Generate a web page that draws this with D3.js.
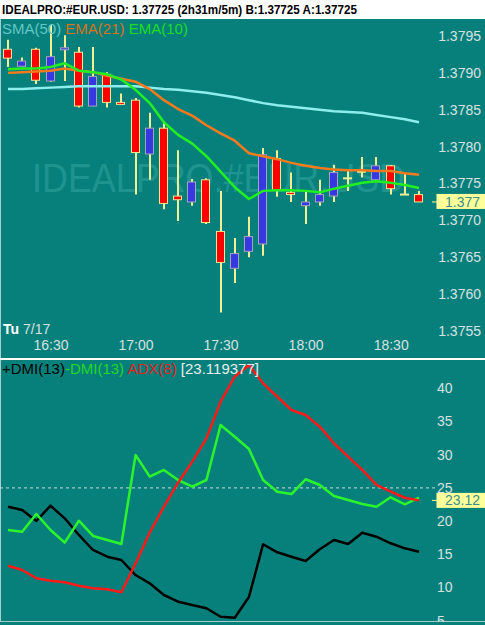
<!DOCTYPE html>
<html lang="en">
<head>
<meta charset="utf-8">
<style>
  body { margin: 0; background: #fff; }
  svg { display: block; font-family: "Liberation Sans", Arial, sans-serif; }
</style>
<script src="https://d3js.org/d3.v7.min.js" charset="utf-8"></script>
</head>
<body>

<script>
  // 5 minute bars, EUR.USD
  let times = ["16:15", "16:20", "16:25", "16:30", "16:35", "16:40", "16:45", "16:50", "16:55", "17:00",
               "17:05", "17:10", "17:15", "17:20", "17:25", "17:30", "17:35", "17:40", "17:45", "17:50",
               "17:55", "18:00", "18:05", "18:10", "18:15", "18:20", "18:25", "18:30", "18:35", "18:40"];

  let open  = [1.37932, 1.37909, 1.37932, 1.37889, 1.37932, 1.37928, 1.37855, 1.37898, 1.37860, 1.37863,
               1.37790, 1.37825, 1.37733, 1.37725, 1.37755, 1.37685, 1.37635, 1.37658, 1.37668, 1.37784,
               1.37738, 1.37720, 1.37725, 1.37733, 1.37757, 1.37766, 1.37755, 1.37774, 1.37735, 1.37735];
  let high  = [1.37945, 1.37921, 1.37934, 1.37965, 1.37951, 1.37935, 1.37935, 1.37901, 1.37872, 1.37866,
               1.37846, 1.37834, 1.37795, 1.37756, 1.37757, 1.37740, 1.37676, 1.37705, 1.37798, 1.37795,
               1.37765, 1.37741, 1.37755, 1.37775, 1.37768, 1.37786, 1.37786, 1.37775, 1.37764, 1.37740];
  let low   = [1.37908, 1.37909, 1.37885, 1.37888, 1.37889, 1.37853, 1.37855, 1.37853, 1.37858, 1.37735,
               1.37755, 1.37715, 1.37699, 1.37720, 1.37695, 1.37575, 1.37615, 1.37650, 1.37652, 1.37732,
               1.37725, 1.37695, 1.37720, 1.37725, 1.37740, 1.37758, 1.37755, 1.37735, 1.37735, 1.37725];
  let close = [1.37920, 1.37916, 1.37890, 1.37922, 1.37934, 1.37855, 1.37895, 1.37860, 1.37858, 1.37792,
               1.37825, 1.37723, 1.37728, 1.37752, 1.37697, 1.37643, 1.37655, 1.37678, 1.37789, 1.37741,
               1.37735, 1.37725, 1.37735, 1.37765, 1.37757, 1.37766, 1.37774, 1.37743, 1.37735, 1.37725];

  let sma50 = [1.37878, 1.37878, 1.37879, 1.37880, 1.37881, 1.37882, 1.37882, 1.37882, 1.37882, 1.37882,
               1.37880, 1.37878, 1.37877, 1.37875, 1.37873, 1.37870, 1.37867, 1.37863, 1.37859, 1.37856,
               1.37854, 1.37852, 1.37850, 1.37848, 1.37847, 1.37846, 1.37843, 1.37840, 1.37837, 1.37833];
  let ema21 = [1.37900, 1.37901, 1.37902, 1.37903, 1.37906, 1.37903, 1.37901, 1.37896, 1.37892, 1.37888,
               1.37878, 1.37863, 1.37851, 1.37842, 1.37829, 1.37818, 1.37808, 1.37791, 1.37787, 1.37783,
               1.37778, 1.37774, 1.37771, 1.37769, 1.37768, 1.37768, 1.37767, 1.37767, 1.37764, 1.37762];
  let ema10 = [1.37905, 1.37906, 1.37906, 1.37908, 1.37913, 1.37903, 1.37901, 1.37898, 1.37891, 1.37877,
               1.37859, 1.37833, 1.37816, 1.37804, 1.37787, 1.37766, 1.37745, 1.37729, 1.37740, 1.37741,
               1.37741, 1.37740, 1.37738, 1.37743, 1.37747, 1.37751, 1.37753, 1.37751, 1.37748, 1.37744];

  let plusDmi  = [22.17, 21.67, 20.02, 22.32, 20.42, 17.91, 15.65, 14.64, 14.14, 11.88,
                  10.63, 8.87, 7.86, 7.36, 6.87, 5.60, 5.45, 8.57, 16.51, 15.30,
                  14.64, 13.99, 15.75, 17.15, 16.55, 18.25, 17.65, 16.66, 15.90, 15.39];
  let minusDmi = [18.66, 18.40, 21.07, 18.66, 16.75, 20.06, 17.76, 17.15, 16.55, 29.95,
                  26.69, 27.70, 26.19, 25.18, 26.19, 34.47, 32.71, 30.86, 26.19, 24.43,
                  24.08, 26.30, 25.44, 23.78, 23.18, 22.58, 22.17, 23.58, 22.53, 23.52];
  let adx      = [13.28, 12.64, 11.39, 11.02, 10.78, 10.27, 9.88, 9.73, 9.28, 13.64,
                  18.25, 22.17, 25.78, 28.95, 32.47, 37.98, 41.75, 43.51, 40.75, 38.73,
                  36.73, 35.98, 34.22, 31.72, 29.70, 27.70, 25.44, 24.43, 23.52, 23.119377];

  let priceTicks = [1.3755, 1.3760, 1.3765, 1.3770, 1.3775, 1.3780, 1.3785, 1.3790, 1.3795];
  let dmiTicks = [5, 10, 15, 20, 25, 30, 35, 40];
  let timeTicks = ["16:30", "17:00", "17:30", "18:00", "18:30"];
  let refLevel = 25;

  let bg = "#07807b";
  let axisColor = "#d6e2e2";
  let wickColor = "#f2ee96";

  let parseTime = d3.timeParse("%H:%M");
  let dates = times.map(parseTime);

  let svg = d3.select("body")
    .append("svg")
    .attr("width", 485)
    .attr("height", 625);

  svg.append("rect").attr("width", 485).attr("height", 625).attr("fill", "#fff");

  svg.append("text")
    .attr("x", 2)
    .attr("y", 14)
    .attr("font-size", 13)
    .attr("font-weight", "bold")
    .attr("textLength", 355)
    .attr("lengthAdjust", "spacingAndGlyphs")
    .attr("fill", "#000")
    .text("IDEALPRO:#EUR.USD: 1.37725 (2h31m/5m)  B:1.37725 A:1.37725");

  let defs = svg.append("defs");
  defs.append("clipPath").attr("id", "clipTop")
    .append("rect").attr("x", 0).attr("y", 19).attr("width", 485).attr("height", 339);
  defs.append("clipPath").attr("id", "clipBottom")
    .append("rect").attr("x", 0).attr("y", 360).attr("width", 485).attr("height", 262);

  svg.append("rect").attr("x", 0).attr("y", 19).attr("width", 485).attr("height", 339).attr("fill", bg);
  svg.append("rect").attr("x", 0).attr("y", 360).attr("width", 485).attr("height", 265).attr("fill", bg);
  svg.append("line").attr("x1", 0).attr("x2", 485).attr("y1", 621.5).attr("y2", 621.5)
    .attr("stroke", "#a9cccc").attr("stroke-width", 1);
  svg.append("line").attr("x1", 0.5).attr("x2", 0.5).attr("y1", 19).attr("y2", 622)
    .attr("stroke", "#a9cccc").attr("stroke-width", 1);

  let x = d3.scaleTime()
    .domain([parseTime("16:15"), parseTime("18:40")])
    .range([8, 419]);

  let yPrice = d3.scaleLinear()
    .domain([1.3755, 1.3795])
    .range([331, 36]);

  let yDmi = d3.scaleLinear()
    .domain([5, 40])
    .range([620.7, 388.3]);

  // ---------- price panel ----------
  let pricePanel = svg.append("g").attr("clip-path", "url(#clipTop)");

  pricePanel.append("text")
    .attr("x", 32)
    .attr("y", 192)
    .attr("font-size", 40)
    .attr("textLength", 373)
    .attr("lengthAdjust", "spacingAndGlyphs")
    .attr("fill", "#1f948f")
    .text("IDEALPRO.#EUR.USD");

  let candles = dates.map(function(t, i) {
    return {t: t, o: open[i], h: high[i], l: low[i], c: close[i]};
  });

  pricePanel.selectAll(".wick")
    .data(candles)
    .enter().append("line")
    .attr("class", "wick")
    .attr("x1", d => Math.round(x(d.t)))
    .attr("x2", d => Math.round(x(d.t)))
    .attr("y1", d => yPrice(d.h))
    .attr("y2", d => yPrice(d.l))
    .attr("stroke", wickColor)
    .attr("stroke-width", 2);

  pricePanel.selectAll(".doji")
    .data(candles.filter(d => d.o === d.c))
    .enter().append("line")
    .attr("class", "doji")
    .attr("x1", d => Math.round(x(d.t)) - 5)
    .attr("x2", d => Math.round(x(d.t)) + 4)
    .attr("y1", d => yPrice(d.o))
    .attr("y2", d => yPrice(d.o))
    .attr("stroke", wickColor)
    .attr("stroke-width", 2);

  pricePanel.selectAll(".body")
    .data(candles.filter(d => d.o !== d.c))
    .enter().append("rect")
    .attr("class", "body")
    .attr("x", d => Math.round(x(d.t)) - 4.5)
    .attr("width", 8)
    .attr("y", d => yPrice(Math.max(d.o, d.c)))
    .attr("height", d => Math.max(2, Math.abs(yPrice(d.o) - yPrice(d.c))))
    .attr("fill", d => d.c > d.o ? "#3838e0" : "#ff0000")
    .attr("stroke", d => d.c > d.o ? "#a4a4bc" : "#f0e890")
    .attr("stroke-width", 1);

  let priceLine = d3.line()
    .x((d, i) => x(dates[i]))
    .y(d => yPrice(d));

  [[sma50, "#8eeeee"], [ema21, "#f57a1e"], [ema10, "#22ee22"]].forEach(function(s) {
    pricePanel.append("path")
      .attr("d", priceLine(s[0]))
      .attr("fill", "none")
      .attr("stroke", s[1])
      .attr("stroke-width", 2.5)
      .attr("stroke-linejoin", "round");
  });

  let priceLegend = pricePanel.append("text")
    .attr("x", 2)
    .attr("y", 34)
    .attr("font-size", 15);
  priceLegend.append("tspan").attr("fill", "#62c6c6").text("SMA(50) ");
  priceLegend.append("tspan").attr("fill", "#d8721c").text("EMA(21) ");
  priceLegend.append("tspan").attr("fill", "#1fdc1f").text("EMA(10)");

  let priceAxis = pricePanel.append("g")
    .attr("transform", "translate(481,0)")
    .call(d3.axisRight(yPrice).tickValues(priceTicks).tickFormat(d3.format(".4f")).tickSize(0).tickPadding(0))
    .attr("font-size", 14)
    .attr("font-family", null)
    .attr("text-anchor", "end");
  priceAxis.select(".domain").remove();
  priceAxis.selectAll("text").attr("fill", axisColor);

  let timeAxis = pricePanel.append("g")
    .attr("transform", "translate(0,340)")
    .call(d3.axisBottom(x).tickValues(timeTicks.map(parseTime)).tickFormat(d3.timeFormat("%H:%M")).tickSize(0).tickPadding(0))
    .attr("font-size", 14)
    .attr("font-family", null);
  timeAxis.select(".domain").remove();
  timeAxis.selectAll("text").attr("fill", axisColor);

  let dayLabel = pricePanel.append("text")
    .attr("x", 3)
    .attr("y", 334)
    .attr("font-size", 14)
    .attr("fill", axisColor);
  dayLabel.append("tspan").attr("font-weight", "bold").attr("fill", "#fff").text("Tu ");
  dayLabel.append("tspan").text("7/17");

  let lastPrice = close[close.length - 1];
  let yLast = yPrice(lastPrice);
  pricePanel.append("line")
    .attr("x1", 432).attr("x2", 437).attr("y1", yLast).attr("y2", yLast)
    .attr("stroke", "#ffff99");
  pricePanel.append("rect")
    .attr("x", 436.5).attr("y", yLast - 8).attr("width", 49).attr("height", 15)
    .attr("fill", "#ffff99");
  pricePanel.append("text")
    .attr("x", 445).attr("y", yLast + 5)
    .attr("font-size", 14)
    .attr("fill", "#3a8f8b")
    .text(d3.format(".3f")(lastPrice));

  // ---------- DMI panel ----------
  let dmiPanel = svg.append("g").attr("clip-path", "url(#clipBottom)");

  dmiPanel.append("line")
    .attr("x1", 0).attr("x2", 436)
    .attr("y1", yDmi(refLevel)).attr("y2", yDmi(refLevel))
    .attr("stroke", "#c6dada")
    .attr("stroke-width", 1)
    .attr("stroke-dasharray", "3,3");

  let dmiLine = d3.line()
    .x((d, i) => x(dates[i]))
    .y(d => yDmi(d));

  [[plusDmi, "#000000"], [minusDmi, "#2cf42c"], [adx, "#ff1a1a"]].forEach(function(s) {
    dmiPanel.append("path")
      .attr("d", dmiLine(s[0]))
      .attr("fill", "none")
      .attr("stroke", s[1])
      .attr("stroke-width", 2.5)
      .attr("stroke-linejoin", "round");
  });

  let dmiAxis = dmiPanel.append("g")
    .attr("transform", "translate(437,0)")
    .call(d3.axisRight(yDmi).tickValues(dmiTicks).tickFormat(d3.format("d")).tickSize(0).tickPadding(0))
    .attr("font-size", 14)
    .attr("font-family", null)
    .attr("text-anchor", "start");
  dmiAxis.select(".domain").remove();
  dmiAxis.selectAll("text").attr("fill", axisColor);

  let lastAdx = adx[adx.length - 1];
  let yAdx = yDmi(lastAdx);
  dmiPanel.append("line")
    .attr("x1", 432).attr("x2", 437).attr("y1", yAdx).attr("y2", yAdx)
    .attr("stroke", "#ffff99");
  dmiPanel.append("rect")
    .attr("x", 436.5).attr("y", yAdx - 7.5).attr("width", 49).attr("height", 15)
    .attr("fill", "#ffff99");
  dmiPanel.append("text")
    .attr("x", 445).attr("y", yAdx + 5)
    .attr("font-size", 14)
    .attr("fill", "#3a8f8b")
    .text(d3.format(".2f")(lastAdx));

  let dmiLegend = dmiPanel.append("text")
    .attr("x", 2)
    .attr("y", 374)
    .attr("font-size", 15);
  dmiLegend.append("tspan").attr("fill", "#000").text("+DMI(13)");
  dmiLegend.append("tspan").attr("fill", "#22d822").text("-DMI(13) ");
  dmiLegend.append("tspan").attr("fill", "#e02222").text("ADX(8)  ");
  dmiLegend.append("tspan").attr("fill", "#e6eeee").text("[" + lastAdx + "]");

  svg.append("rect").attr("x", 0).attr("y", 358).attr("width", 485).attr("height", 2).attr("fill", "#fff");
</script>

</body>
</html>
